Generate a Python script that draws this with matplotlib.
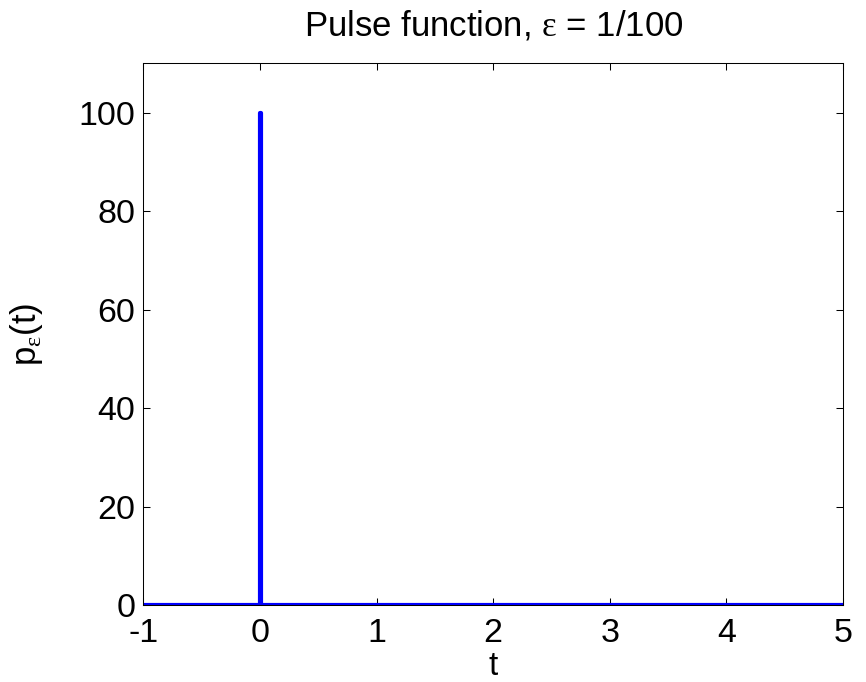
import matplotlib
matplotlib.use('Agg')
import matplotlib.pyplot as plt

# pulse of width eps and height 1/eps
eps = 1 / 100
t = [-1, 0, 0, eps, eps, 5]
p = [0, 0, 1 / eps, 1 / eps, 0, 0]
xticks = [-1, 0, 1, 2, 3, 4, 5]
yticks = [0, 20, 40, 60, 80, 100]

plt.rcParams['font.family'] = ['Liberation Sans', 'DejaVu Sans']
plt.rcParams['mathtext.fontset'] = 'custom'
plt.rcParams['mathtext.rm'] = 'Liberation Serif'
plt.rcParams['mathtext.it'] = 'Liberation Serif'
plt.rcParams['axes.unicode_minus'] = False

fig = plt.figure(figsize=(8.66, 6.82), dpi=100)
ax = fig.add_axes([0.1657, 0.1129, 0.8077, 0.7941])

ax.plot(t, p, color='#0000ff', linewidth=3)

ax.set_xlim(-1, 5)
ax.set_ylim(0, 110)
ax.set_xticks(xticks)
ax.set_yticks(yticks)
ax.tick_params(direction='in', top=True, right=True, length=5, width=0.75,
               labelsize=24.5)
ax.tick_params(axis='x', pad=9)
ax.tick_params(axis='y', pad=6)
for s in ax.spines.values():
    s.set_linewidth(0.75)

ax.set_title(r'Pulse function, $\varepsilon$ = 1/100', fontsize=25, pad=20)
ax.set_xlabel('t', fontsize=24, labelpad=2)
ax.set_ylabel(r'p$_{\varepsilon}$(t)', fontsize=25, labelpad=24)

fig.savefig('out.png', dpi=100)
